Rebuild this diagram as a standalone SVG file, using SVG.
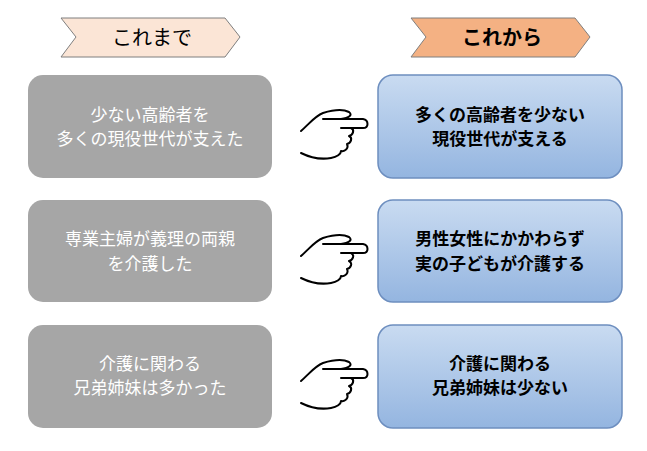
<svg xmlns="http://www.w3.org/2000/svg" width="647" height="451" viewBox="0 0 647 451">
<style>
.g{fill:#a6a6a6;}
.b{fill:url(#bg);stroke:#6d8ebf;stroke-width:1.5;}
.tg{font-family:"Noto Sans CJK JP",sans-serif;font-size:17px;fill:#fff;text-anchor:middle;}
.tb{font-family:"Noto Sans CJK JP",sans-serif;font-size:17px;font-weight:bold;fill:#000;text-anchor:middle;}
.h{fill:none;stroke:#000;stroke-width:2;stroke-linecap:round;stroke-linejoin:round;}
</style>
<defs>
<linearGradient id="bg" x1="0" y1="0" x2="0" y2="1"><stop offset="0" stop-color="#c9dbf1"/><stop offset="1" stop-color="#94b5e0"/></linearGradient>
<g id="hand"><path class="h" d="M0,25 C8,18 14,10 22,7 C32,4 42,3 48,6 C52,9 48,12 40,13 L22,13 M22,13 L62,13 C68,14 68,22 62,22 L40,22 M50,22 C54,24 52,29 48,30 C52,32 50,37 46,38 C48,42 44,46 40,45 C40,48 36,51 30,52 C18,54 8,51 0,47"/></g>
</defs>
<g id="head-left"><polygon points="61,18 225,18 240,37 225,57 61,57 76,37" fill="#fbe5d6" stroke="#7f7f7f" stroke-width="1"/><text x="152" y="45" font-family="Noto Sans CJK JP,sans-serif" font-size="20" text-anchor="middle">これまで</text></g>
<g id="head-right"><polygon points="411,18 575,18 590,37 575,57 411,57 426,37" fill="#f4b183" stroke="#7f7f7f" stroke-width="1"/><text x="502" y="45" font-family="Noto Sans CJK JP,sans-serif" font-size="20" font-weight="bold" text-anchor="middle">これから</text></g>
<g id="l1"><rect class="g" x="28" y="75" width="244" height="103" rx="15"/><text class="tg" x="150" y="121">少ない高齢者を</text><text class="tg" x="150" y="145">多くの現役世代が支えた</text></g>
<g id="l2"><rect class="g" x="28" y="200" width="244" height="102" rx="15"/><text class="tg" x="150" y="245">専業主婦が義理の両親</text><text class="tg" x="150" y="270">を介護した</text></g>
<g id="l3"><rect class="g" x="28" y="325" width="244" height="103" rx="15"/><text class="tg" x="150" y="370">介護に関わる</text><text class="tg" x="150" y="394">兄弟姉妹は多かった</text></g>
<g id="r1"><rect class="b" x="378" y="75" width="244" height="103" rx="15"/><text class="tb" x="500" y="121">多くの高齢者を少ない</text><text class="tb" x="500" y="145">現役世代が支える</text></g>
<g id="r2"><rect class="b" x="378" y="200" width="244" height="102" rx="15"/><text class="tb" x="500" y="245">男性女性にかかわらず</text><text class="tb" x="500" y="270">実の子どもが介護する</text></g>
<g id="r3"><rect class="b" x="378" y="325" width="244" height="103" rx="15"/><text class="tb" x="500" y="370">介護に関わる</text><text class="tb" x="500" y="394">兄弟姉妹は少ない</text></g>
<g id="connectors">
<use href="#hand" x="301" y="106"/>
<use href="#hand" x="301" y="231"/>
<use href="#hand" x="301" y="356"/>
</g>
</svg>
